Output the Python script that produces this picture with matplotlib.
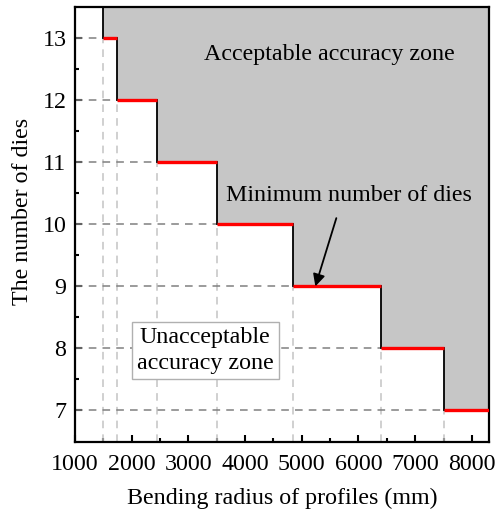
import matplotlib
matplotlib.use("Agg")
import matplotlib.pyplot as plt

plt.rcParams["font.family"] = ["Liberation Serif", "DejaVu Serif"]

# --- data ---
radius_start = [1500, 1750, 2450, 3500, 4850, 6400, 7500]   # mm
num_dies = [13, 12, 11, 10, 9, 8, 7]
X_MIN, X_MAX = 1000, 8300
Y_MIN, Y_MAX = 6.5, 13.5
FS = 17.3

fig = plt.figure(figsize=(5.02, 5.11), dpi=100)
ax = fig.add_axes([0.149, 0.136, 0.825, 0.850])

xs = radius_start + [X_MAX]
ys = num_dies + [num_dies[-1]]

# acceptable zone (above the step curve)
ax.fill_between(xs, ys, Y_MAX, step="post", color="#c6c6c6", lw=0, zorder=1)

# dashed guide lines
for x0, y0 in zip(radius_start, num_dies):
    ax.plot([X_MIN, x0], [y0, y0], ls=(0, (5, 4)), color="#808080", lw=1.1, zorder=2)
    ax.plot([x0, x0], [Y_MIN, y0], ls=(0, (5, 4)), color="#c4c4c4", lw=1.1, zorder=2)

# vertical black edges of the steps
ax.plot([radius_start[0]] * 2, [num_dies[0], Y_MAX], color="black", lw=1.3, zorder=3)
for i in range(1, len(radius_start)):
    ax.plot([radius_start[i]] * 2, [num_dies[i], num_dies[i - 1]], color="black", lw=1.3, zorder=3)

# red minimum-number segments
for i in range(len(radius_start)):
    ax.plot([xs[i], xs[i + 1]], [num_dies[i], num_dies[i]], color="#ff0000", lw=2.4,
            solid_capstyle="butt", zorder=4)

ax.set_xlim(X_MIN, X_MAX)
ax.set_ylim(Y_MIN, Y_MAX)
ax.set_xticks(range(1000, 8001, 1000))
ax.set_xticks(range(1500, 8001, 1000), minor=True)
ax.set_yticks(range(7, 14))
ax.set_yticks([7.5 + i for i in range(6)], minor=True)
ax.tick_params(which="both", direction="in", labelsize=FS, width=1.5)
ax.tick_params(which="major", length=5)
ax.tick_params(axis="x", which="major", pad=9)
ax.tick_params(axis="y", which="major", pad=6)
ax.tick_params(which="minor", length=3)
for s in ax.spines.values():
    s.set_linewidth(1.6)

ax.set_xlabel("Bending radius of profiles (mm)", fontsize=FS, labelpad=9)
ax.set_ylabel("The number of dies", fontsize=FS)
ax.yaxis.set_label_coords(-0.102, 0.53)

ax.text(5480, 12.74, "Acceptable accuracy zone", fontsize=FS, ha="center", va="center", zorder=5)
ax.text(5840, 10.47, "Minimum number of dies", fontsize=FS, ha="center", va="center", zorder=5)
ax.annotate("", xy=(5240, 9.0), xytext=(5610, 10.1), zorder=5,
            arrowprops=dict(arrowstyle="-|>", color="black", lw=1.3,
                            mutation_scale=18, shrinkA=0, shrinkB=0))
ax.text(3300, 7.97, "Unacceptable\naccuracy zone", fontsize=FS, ha="center", va="center",
        linespacing=1.3, zorder=5,
        bbox=dict(boxstyle="square,pad=0.22", fc="white", ec="#b0b0b0", lw=1.0))

fig.savefig("out.png", dpi=100)
